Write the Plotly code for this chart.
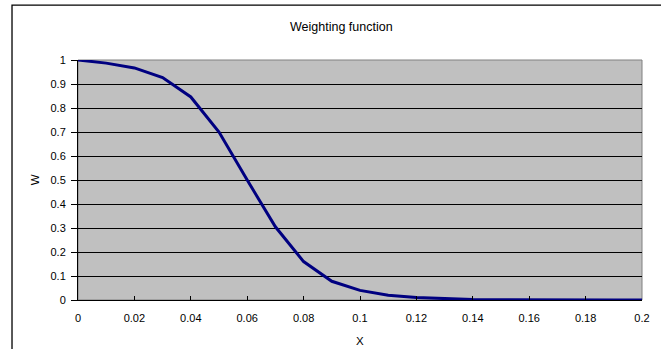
import plotly.graph_objects as go

x_vals = [0, 0.01, 0.02, 0.03, 0.04, 0.05, 0.06, 0.07, 0.08, 0.09, 0.10,
          0.11, 0.12, 0.13, 0.14, 0.15, 0.16, 0.17, 0.18, 0.19, 0.20]
w_vals = [1.0, 0.987, 0.967, 0.927, 0.846, 0.70, 0.50, 0.305, 0.16, 0.078, 0.04,
          0.02, 0.01, 0.005, 0.002, 0.001, 0, 0, 0, 0, 0]

x_ticks = [0, 0.02, 0.04, 0.06, 0.08, 0.1, 0.12, 0.14, 0.16, 0.18, 0.2]
x_tick_text = ["0", "0.02", "0.04", "0.06", "0.08", "0.1", "0.12", "0.14", "0.16", "0.18", "0.2"]
y_ticks = [0, 0.1, 0.2, 0.3, 0.4, 0.5, 0.6, 0.7, 0.8, 0.9, 1]
y_tick_text = ["0", "0.1", "0.2", "0.3", "0.4", "0.5", "0.6", "0.7", "0.8", "0.9", "1"]

title_text = "Weighting function"
x_title = "X"
y_title = "W"

FONT = "Liberation Sans, Arial, sans-serif"

fig = go.Figure()
fig.add_trace(go.Scatter(x=x_vals, y=w_vals, mode="lines",
                         line=dict(color="#000080", width=3),
                         cliponaxis=False, showlegend=False, hoverinfo="skip"))

fig.update_layout(
    width=661, height=349,
    margin=dict(l=78, r=19, t=60, b=49),
    paper_bgcolor="white",
    plot_bgcolor="#C0C0C0",
    font=dict(family=FONT, size=11, color="black"),
    showlegend=False,
)
fig.update_xaxes(range=[0, 0.2], tickvals=x_ticks, ticktext=x_tick_text,
                 showgrid=False, zeroline=False,
                 showline=True, linecolor="black", linewidth=1,
                 ticks="inside", ticklen=4, tickcolor="black",
                 ticklabelstandoff=8,
                 mirror=False)
fig.update_yaxes(range=[0, 1], tickvals=y_ticks, ticktext=y_tick_text,
                 showgrid=True, gridcolor="black", gridwidth=1,
                 zeroline=False,
                 showline=True, linecolor="black", linewidth=1,
                 ticks="outside", ticklen=6, tickcolor="black",
                 ticklabelstandoff=3)

# plot area border (gray)
fig.add_shape(type="rect", xref="paper", yref="paper", x0=0, y0=0, x1=1, y1=1,
              line=dict(color="#808080", width=1), layer="below")
# outer chart frame
fig.add_shape(type="rect", xref="paper", yref="paper",
              x0=-0.117, y0=-0.4, x1=1.2, y1=1.229,
              line=dict(color="black", width=1.3))

fig.add_annotation(text=title_text, xref="paper", yref="paper",
                   x=0.468, y=1.1375, showarrow=False,
                   xanchor="center", yanchor="middle",
                   font=dict(family=FONT, size=12.5, color="black"))
fig.add_annotation(text=x_title, xref="paper", yref="paper",
                   x=0.5, y=-0.171, showarrow=False,
                   xanchor="center", yanchor="middle",
                   font=dict(family=FONT, size=11.5, color="black"))
fig.add_annotation(text=y_title, xref="paper", yref="paper",
                   x=-0.076, y=0.5, showarrow=False, textangle=-90,
                   xanchor="center", yanchor="middle",
                   font=dict(family=FONT, size=11.5, color="black"))

fig.write_html("out.html")
